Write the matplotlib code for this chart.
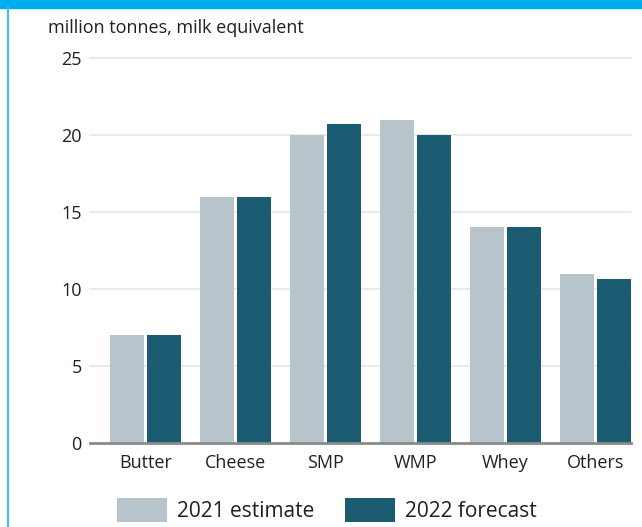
import numpy as np
import matplotlib.pyplot as plt
from matplotlib.patches import Patch, Rectangle
from matplotlib.lines import Line2D

# data
categories = ['Butter', 'Cheese', 'SMP', 'WMP', 'Whey', 'Others']
est_2021 = [7.0, 16.0, 20.0, 21.0, 14.0, 11.0]
fc_2022 = [7.0, 16.0, 20.7, 20.0, 14.0, 10.65]
series_names = ['2021 estimate', '2022 forecast']
yticks = [0, 5, 10, 15, 20, 25]

light = '#b8c4cc'
dark = '#1b5c73'
txt = '#231f20'

plt.rcParams['font.family'] = ['Open Sans', 'DejaVu Sans']

fig = plt.figure(figsize=(6.42, 5.27), dpi=100)

# frame decorations: top band and left border
fig.patches.append(Rectangle((0, 1 - 8 / 527), 1, 8 / 527, transform=fig.transFigure,
                             color='#00aeef', zorder=0))
fig.add_artist(Line2D([7.5 / 642, 7.5 / 642], [0, 1 - 8 / 527], transform=fig.transFigure,
                      color='#3cc0f0', lw=1.5))

ax = fig.add_axes([90 / 642, 84 / 527, 541 / 642, 385 / 527])
x = np.arange(len(categories))
w = 0.378
ax.bar(x - 0.206, est_2021, width=w, color=light, zorder=3)
ax.bar(x + 0.206, fc_2022, width=w, color=dark, zorder=3)

ax.set_xlim(-0.617, 5.394)
ax.set_ylim(0, 25)
ax.set_yticks(yticks)
ax.set_xticks(x)
ax.set_xticklabels(categories)
ax.tick_params(axis='both', length=0, labelsize=13, colors=txt)
ax.tick_params(axis='y', pad=6)
ax.tick_params(axis='x', pad=8)
for t in yticks[1:]:
    ax.axhline(t, color='#e6e6e6', lw=1.2, zorder=1, clip_on=False)
ax.axhline(0, color='#8a8a8a', lw=2, zorder=4, clip_on=False)
for s in ax.spines.values():
    s.set_visible(False)

fig.text(48 / 642, 1 - 28 / 527, 'million tonnes, milk equivalent', fontsize=13,
         color=txt, va='center', ha='left')

handles = [Patch(facecolor=light, label=series_names[0]),
           Patch(facecolor=dark, label=series_names[1])]
fig.legend(handles=handles, loc='center', bbox_to_anchor=(327 / 642, 17 / 527), ncol=2,
           frameon=False, fontsize=15, handlelength=2.4, handleheight=1.4,
           columnspacing=1.45, handletextpad=0.5, labelcolor=txt)

fig.savefig('out.png', dpi=100)
